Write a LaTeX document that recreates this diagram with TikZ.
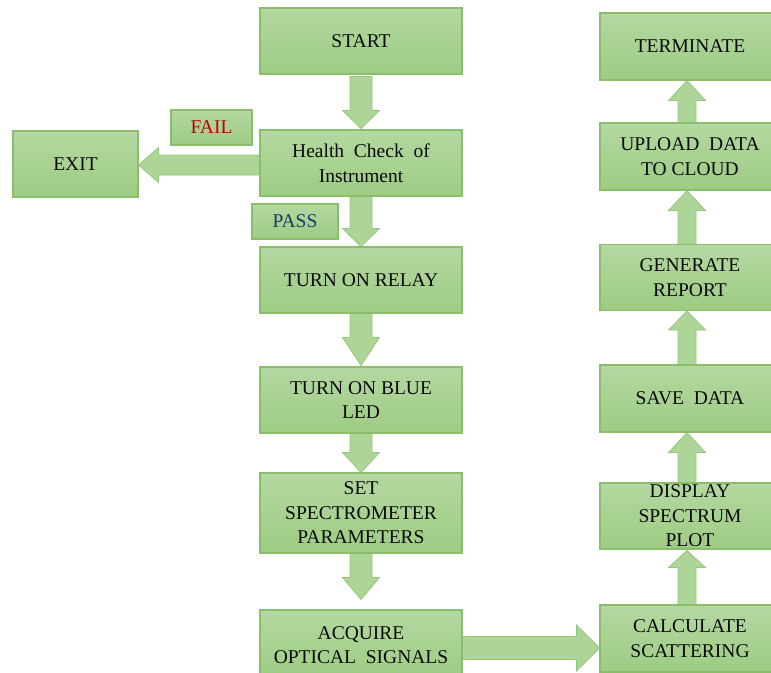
\documentclass[tikz,border=0pt]{standalone}
\usepackage{fontspec}
\setmainfont{Liberation Serif}
\usetikzlibrary{calc}
\definecolor{bxtop}{RGB}{180,216,161}
\definecolor{bxbot}{RGB}{157,204,131}
\definecolor{bxline}{RGB}{138,190,108}
\definecolor{arrline}{RGB}{150,198,122}
\definecolor{arrfill}{RGB}{174,213,152}
\definecolor{failred}{RGB}{192,0,0}
\definecolor{passblue}{RGB}{31,56,100}
\definecolor{txt}{RGB}{10,10,10}
\pgfdeclarelayer{bg}
\pgfsetlayers{bg,main}
\tikzset{
  box/.style={draw=bxline, line width=1.1pt, top color=bxtop, bottom color=bxbot,
    rectangle, inner sep=0pt, align=center, text=txt,
    font=\fontsize{19.5}{24.5}\selectfont},
  tag/.style={box},
  blk/.style={fill=arrfill, draw=arrline, line width=0.8pt, line join=miter}
}
% #1 tail, #2 tip, #3 shaft half width, #4 head half width, #5 head length
\newcommand\blkarrow[5]{%
  \coordinate (ba) at ($#2!#5!#1$);
  \path[blk] ($#1!#3!90:#2$) -- ($(ba)!#3!-90:#1$) -- ($(ba)!#4!-90:#1$) -- #2
    -- ($(ba)!#4!90:#1$) -- ($(ba)!#3!90:#1$) -- ($#1!#3!-90:#2$) -- cycle;
}
\begin{document}
\begin{tikzpicture}[x=1pt,y=-1pt]
\useasboundingbox (0,0) rectangle (771,672);
\clip (0,0) rectangle (771,672);
% left column
\node[box, minimum width=202pt, minimum height=66pt] (start) at (361,41) {START};
\node[box, minimum width=202pt, minimum height=66pt] (health) at (361,163) {Health\ \ Check\ \ of\\Instrument};
\node[box, minimum width=125pt, minimum height=66pt] (exit) at (75.5,164) {EXIT};
\node[tag, minimum width=81pt, minimum height=35pt, text=failred] (fail) at (211.5,127.5) {FAIL};
\node[tag, minimum width=86pt, minimum height=35pt, text=passblue] (pass) at (295,221.5) {PASS};
\node[box, minimum width=202pt, minimum height=66pt] (relay) at (361,280) {TURN ON RELAY};
\node[box, minimum width=202pt, minimum height=66pt] (led) at (361,400) {TURN ON BLUE\\LED};
\node[box, minimum width=202pt, minimum height=80pt] (spec) at (361,513) {SET\\SPECTROMETER\\PARAMETERS};
\node[box, minimum width=202pt, minimum height=70pt] (acq) at (361,645) {ACQUIRE\\OPTICAL\ \ SIGNALS};
% right column
\node[box, minimum width=180pt, minimum height=67pt] (term) at (690,46.5) {TERMINATE};
\node[box, minimum width=180pt, minimum height=67pt] (upload) at (690,156.5) {UPLOAD\ \ DATA\\TO CLOUD};
\node[box, minimum width=180pt, minimum height=66pt] (gen) at (690,277.5) {GENERATE\\REPORT};
\node[box, minimum width=180pt, minimum height=67pt] (save) at (690,398.5) {SAVE\ \ DATA};
\node[box, minimum width=180pt, minimum height=66pt] (disp) at (690,516) {DISPLAY\\SPECTRUM\\PLOT};
\node[box, minimum width=180pt, minimum height=67pt] (calc) at (690,638.5) {CALCULATE\\SCATTERING};
% connector end points
\coordinate (t1) at ($(start.south)+(0,2)$);   \coordinate (h1) at ($(health.north)+(0,-1)$);
\coordinate (t2) at ($(health.south)$);        \coordinate (h2) at ($(relay.north)$);
\coordinate (t3) at ($(relay.south)$);         \coordinate (h3) at ($(led.north)+(0,-1)$);
\coordinate (t4) at ($(led.south)$);           \coordinate (h4) at ($(spec.north)$);
\coordinate (t5) at ($(spec.south)$);          \coordinate (h5) at ($(acq.north)+(0,-10)$);
\coordinate (t6) at ($(health.west)+(0,2)$);   \coordinate (h6) at ($(exit.east)+(0,1)$);
\coordinate (t7) at ($(acq.east)+(0,3)$);      \coordinate (h7) at ($(calc.west)+(0,9.5)$);
\coordinate (t8) at ($(calc.north)+(-3,0)$);   \coordinate (h8) at ($(disp.south)+(-3,1)$);
\coordinate (t9) at ($(disp.north)+(-3,0)$);   \coordinate (h9) at ($(save.south)+(-3,0)$);
\coordinate (t10) at ($(save.north)+(-3,0)$);  \coordinate (h10) at ($(gen.south)+(-3,0)$);
\coordinate (t11) at ($(gen.north)+(-3,0)$);   \coordinate (h11) at ($(upload.south)+(-3,0)$);
\coordinate (t12) at ($(upload.north)+(-3,0)$);\coordinate (h12) at ($(term.south)+(-3,0)$);
\begin{pgfonlayer}{bg}
\blkarrow{(t1)}{(h1)}{11pt}{18.5pt}{18pt}
\blkarrow{(t2)}{(h2)}{11pt}{18.5pt}{18pt}
\blkarrow{(t3)}{(h3)}{11pt}{18.5pt}{28pt}
\blkarrow{(t4)}{(h4)}{11pt}{18.5pt}{20pt}
\blkarrow{(t5)}{(h5)}{11pt}{18.5pt}{22pt}
\blkarrow{(t6)}{(h6)}{10pt}{17.5pt}{20pt}
\blkarrow{(t7)}{(h7)}{11.5pt}{23pt}{23pt}
\blkarrow{(t8)}{(h8)}{9pt}{18.5pt}{17pt}
\blkarrow{(t9)}{(h9)}{9pt}{18.5pt}{20pt}
\blkarrow{(t10)}{(h10)}{9pt}{18.5pt}{19pt}
\blkarrow{(t11)}{(h11)}{9pt}{18.5pt}{20pt}
\blkarrow{(t12)}{(h12)}{9pt}{18.5pt}{20pt}
\end{pgfonlayer}
\end{tikzpicture}
\end{document}
